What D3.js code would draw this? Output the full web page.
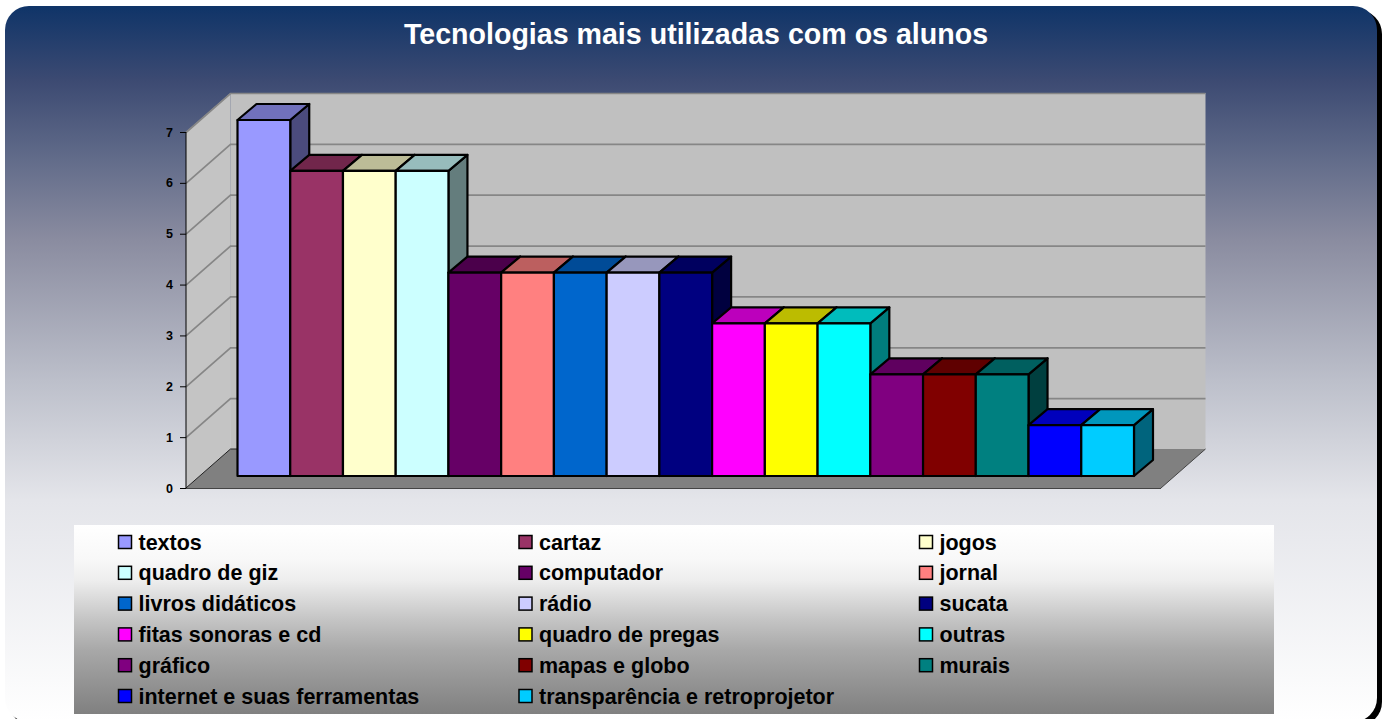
<!DOCTYPE html>
<html><head><meta charset="utf-8">
<script src="https://cdn.jsdelivr.net/npm/d3@7"></script>
<style>html,body{margin:0;padding:0;background:#fff;overflow:hidden}svg{display:block}text{font-family:"Liberation Sans",Arial,sans-serif;font-weight:bold}</style>
</head><body><svg id="c" width="1386" height="719"></svg>
<script>
const titleText = "Tecnologias mais utilizadas com os alunos";
const categories = ["textos","cartaz","jogos","quadro de giz","computador","jornal","livros didáticos","rádio","sucata","fitas sonoras e cd","quadro de pregas","outras","gráfico","mapas e globo","murais","internet e suas ferramentas","transparência e retroprojetor"];
const values = [7,6,6,6,4,4,4,4,4,3,3,3,2,2,2,1,1];
const colors = ["#9999FF","#993366","#FFFFCC","#CCFFFF","#660066","#FF8080","#0066CC","#CCCCFF","#000080","#FF00FF","#FFFF00","#00FFFF","#800080","#800000","#008080","#0000FF","#00CCFF"];
const yTicks = [0,1,2,3,4,5,6,7];

const svg = d3.select("#c");
const defs = svg.append("defs");
function grad(id, stops, y1, y2){
  const g = defs.append("linearGradient").attr("id",id).attr("gradientUnits","userSpaceOnUse")
    .attr("x1",0).attr("x2",0).attr("y1",y1).attr("y2",y2);
  stops.forEach(s=>g.append("stop").attr("offset",(s[0]-y1)/(y2-y1)).attr("stop-color",s[1]));
}
grad("bg",[[6,"#0F3468"],[80,"#3c4a72"],[160,"#626c8a"],[240,"#8a8ca0"],[380,"#bcbfca"],[500,"#e4e5ea"],[722,"#ffffff"]],6,722);
grad("lg",[[525,"#ffffff"],[560,"#f8f8f8"],[580,"#eeeeee"],[620,"#c4c4c4"],[650,"#a8a8a8"],[680,"#959595"],[714,"#808080"]],525,714);

// panel
svg.append("rect").attr("x",9).attr("y",10).attr("width",1373).attr("height",716).attr("rx",24).attr("fill","#000");
svg.append("rect").attr("x",5).attr("y",6).attr("width",1372).attr("height",716).attr("rx",24).attr("fill","url(#bg)");

svg.append("text").attr("x",696).attr("y",44).attr("text-anchor","middle").attr("fill","#fff")
  .attr("font-size",28.6).text(titleText);

// 3D frame
const depth = {x:44.5, y:-39};
const y = d3.scaleLinear().domain([0,7]).range([488,132]);
const frontX = d3.scaleLinear().domain([0,1]).range([186,1161]);
const x0 = frontX(0), x1 = frontX(1);
const poly = p => p.map(q=>q.join(",")).join(" ");
const g = svg.append("g");
g.append("polygon").attr("points",poly([[x0+depth.x,y(0)+depth.y],[x0+depth.x,y(7)+depth.y],[x1+depth.x,y(7)+depth.y],[x1+depth.x,y(0)+depth.y]])).attr("fill","#C0C0C0");
g.append("polygon").attr("points",poly([[x0,y(0)],[x0,y(7)],[x0+depth.x,y(7)+depth.y],[x0+depth.x,y(0)+depth.y]])).attr("fill","#C4C4C4");
g.append("polygon").attr("points",poly([[x0,y(0)],[x1,y(0)],[x1+depth.x,y(0)+depth.y],[x0+depth.x,y(0)+depth.y]])).attr("fill","#808080");
g.append("line").attr("x1",x0).attr("x2",x1).attr("y1",y(0)+0.5).attr("y2",y(0)+0.5).attr("stroke","#444").attr("stroke-width",1.2);
g.append("line").attr("x1",x1).attr("x2",x1+depth.x).attr("y1",y(0)).attr("y2",y(0)+depth.y).attr("stroke","#444").attr("stroke-width",1);
yTicks.filter(t=>t>0).forEach(t=>{
  g.append("polyline").attr("fill","none").attr("stroke","#868686").attr("stroke-width",1.7)
    .attr("points",poly([[x0,y(t)+0.5],[x0+depth.x,y(t)+depth.y+0.5],[x1+depth.x,y(t)+depth.y+0.5]]));
});
g.append("line").attr("x1",x0).attr("x2",x0+depth.x).attr("y1",y(0)).attr("y2",y(0)+depth.y).attr("stroke","#222").attr("stroke-width",1);
g.append("line").attr("x1",x0+depth.x).attr("x2",x0+depth.x+8).attr("y1",y(0)+depth.y).attr("y2",y(0)+depth.y).attr("stroke","#222").attr("stroke-width",1);

// axis
const axis = d3.axisLeft(y).tickValues(yTicks).tickSize(6).tickPadding(7).tickFormat(d3.format("d"));
const ax = svg.append("g").attr("transform",`translate(${x0},0)`).call(axis);
ax.selectAll("path,line").attr("stroke","#000").attr("stroke-width",1);
ax.select("path").attr("d",`M0,${y(7)}V${y(0)}`);
ax.selectAll("text").attr("font-size",12.5).attr("fill","#000");

// bars
const barX = d3.scaleBand().domain(categories).range([237.5,1134]).paddingInner(0);
const barBase = 476;
const barY = v => barBase - (y(0)-y(v));
const bd = {x:19, y:-16};
const bars = svg.append("g").attr("stroke","#000").attr("stroke-width",2.2).attr("stroke-linejoin","round");
categories.forEach((c,i)=>{
  const v = values[i], col = d3.color(colors[i]);
  const l = barX(c), r = l+barX.bandwidth(), t = barY(v);
  const b = bars.append("g");
  b.append("polygon").attr("points",poly([[r,barBase],[r,t],[r+bd.x,t+bd.y],[r+bd.x,barBase+bd.y]])).attr("fill",col.darker(2.0));
  b.append("polygon").attr("points",poly([[l,t],[l+bd.x,t+bd.y],[r+bd.x,t+bd.y],[r,t]])).attr("fill",col.darker(0.85));
  b.append("rect").attr("x",l).attr("y",t).attr("width",r-l).attr("height",barBase-t).attr("fill",col);
});

// legend
svg.append("rect").attr("x",74).attr("y",525).attr("width",1200).attr("height",189).attr("fill","url(#lg)");
const nCols = 3;
const colX = d3.scalePoint().domain(d3.range(nCols)).range([118,919]);
const rowY = d3.scalePoint().domain(d3.range(Math.ceil(categories.length/nCols))).range([542,696]);
const lg = svg.append("g");
categories.forEach((c,i)=>{
  const cx = colX(i%nCols), cy = rowY(Math.floor(i/nCols));
  lg.append("rect").attr("x",cx+0.5).attr("y",cy-6.5).attr("width",13).attr("height",13)
    .attr("fill",colors[i]).attr("stroke","#000").attr("stroke-width",1.5);
  lg.append("text").attr("x",cx+20.5).attr("y",cy+7.5).attr("font-size",21.5).attr("fill","#000").text(c);
});
</script></body></html>
